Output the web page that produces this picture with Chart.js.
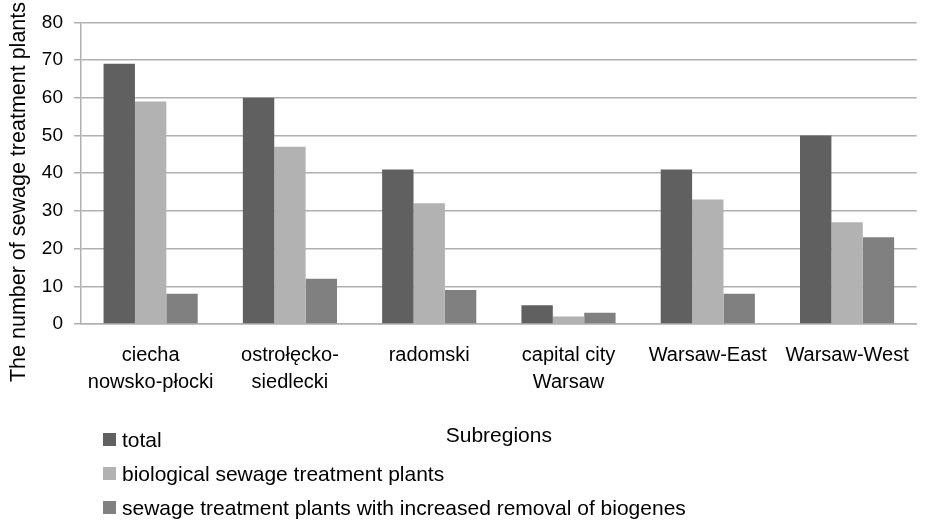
<!DOCTYPE html>
<html>
<head>
<meta charset="utf-8">
<script src="https://cdn.jsdelivr.net/npm/chart.js@4.4.1/dist/chart.umd.min.js"></script>
<style>
  html, body { margin: 0; padding: 0; background: #ffffff; }
  #wrap { width: 927px; height: 522px; position: relative; }
</style>
</head>
<body>
<div id="wrap"><canvas id="c" width="927" height="522"></canvas></div>
<script>
const categories = [
  ["ciecha", "nowsko-płocki"],
  ["ostrołęcko-", "siedlecki"],
  "radomski",
  ["capital city", "Warsaw"],
  "Warsaw-East",
  "Warsaw-West"
];
const seriesNames = [
  "total",
  "biological sewage treatment plants",
  "sewage treatment plants with increased removal of biogenes"
];
const totalValues = [69, 60, 41, 5, 41, 50];
const biologicalValues = [59, 47, 32, 2, 33, 27];
const biogenesValues = [8, 12, 9, 3, 8, 23];
const yTicks = [0, 10, 20, 30, 40, 50, 60, 70, 80];
const xTitle = "Subregions";
const yTitle = "The number of sewage treatment plants";

const FONT = '"Liberation Sans", Arial, sans-serif';
const colors = ["#606060", "#b2b2b2", "#808080"];
const gridColor = "#b0b0b0";

const manualLegend = {
  id: "manualLegend",
  afterDraw(chart) {
    const ctx = chart.ctx;
    ctx.save();
    ctx.font = "21px " + FONT;
    ctx.textBaseline = "alphabetic";
    ctx.textAlign = "left";
    chart.data.datasets.forEach((ds, i) => {
      const base = 447 + i * 34;
      ctx.fillStyle = ds.backgroundColor;
      ctx.fillRect(103, base - 14, 13, 13);
      ctx.fillStyle = "#000000";
      ctx.fillText(ds.label, 122, base);
    });
    ctx.translate(25, 192);
    ctx.rotate(-Math.PI / 2);
    ctx.textAlign = "center";
    ctx.font = "21.5px " + FONT;
    ctx.fillStyle = "#000000";
    ctx.fillText(yTitle, 0, 0);
    ctx.restore();
  }
};

new Chart(document.getElementById("c"), {
  type: "bar",
  data: {
    labels: categories,
    datasets: [
      { label: seriesNames[0], data: totalValues, backgroundColor: colors[0] },
      { label: seriesNames[1], data: biologicalValues, backgroundColor: colors[1] },
      { label: seriesNames[2], data: biogenesValues, backgroundColor: colors[2] }
    ]
  },
  options: {
    responsive: false,
    animation: false,
    devicePixelRatio: 1,
    layout: { padding: { top: 21, right: 3, left: 0, bottom: 0 } },
    datasets: { bar: { categoryPercentage: 0.676, barPercentage: 1.0, borderWidth: 0 } },
    plugins: {
      legend: { display: false },
      tooltip: { enabled: false },
      title: { display: false }
    },
    scales: {
      x: {
        afterFit: (s) => { s.height = 198; },
        grid: { display: false, drawTicks: false },
        border: { display: true, color: gridColor, width: 1.5 },
        ticks: {
          color: "#000000",
          font: { family: FONT, size: 20, lineHeight: 1.35 },
          padding: 18,
          maxRotation: 0,
          autoSkip: false
        },
        title: {
          display: true,
          text: xTitle,
          color: "#000000",
          font: { family: FONT, size: 21, lineHeight: 1.2 },
          padding: { top: 0, bottom: 73 }
        }
      },
      y: {
        min: 0,
        max: 80,
        afterFit: (s) => { s.width = 81; },
        afterBuildTicks: (s) => { s.ticks = yTicks.map(v => ({ value: v })); },
        grid: { color: gridColor, lineWidth: 1.5, tickLength: 7, drawTicks: true },
        border: { display: true, color: gridColor, width: 1.5 },
        ticks: {
          color: "#000000",
          font: { family: FONT, size: 19 },
          padding: 11
        }
      }
    }
  },
  plugins: [manualLegend]
});
</script>
</body>
</html>
